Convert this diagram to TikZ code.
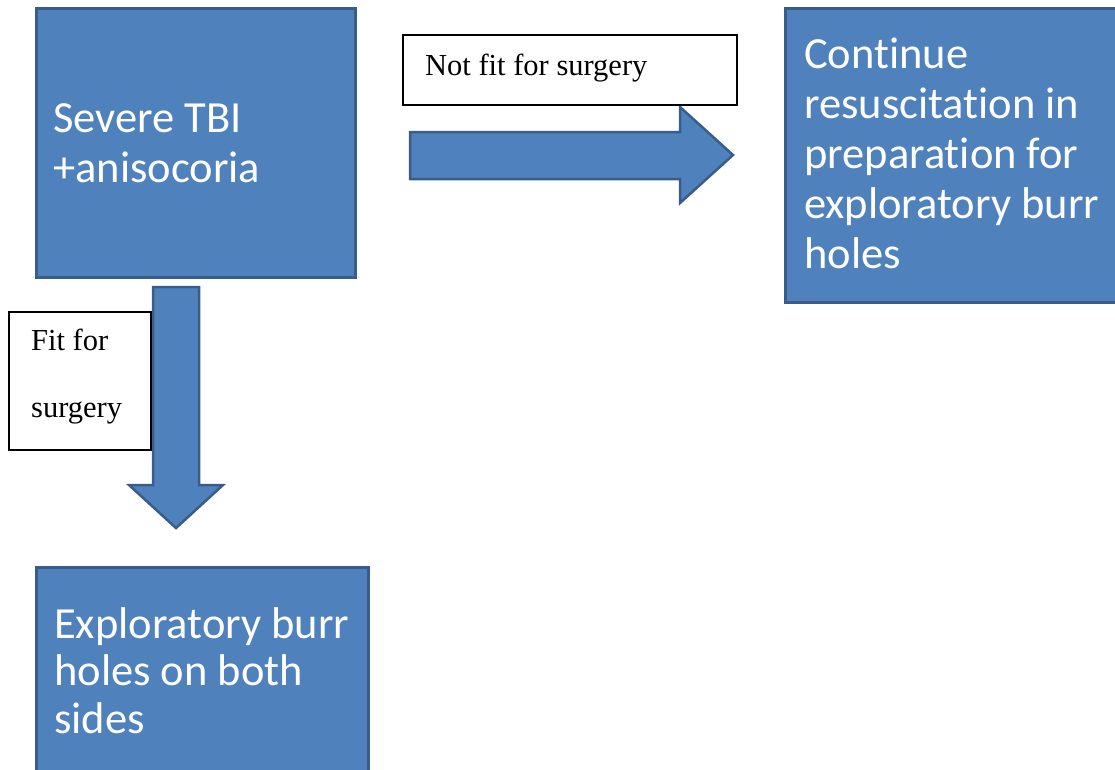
\documentclass[tikz,border=0pt]{standalone}
\usepackage{fontspec}
\setmainfont{Liberation Serif}
\newfontfamily\boxfont[Ligatures=NoCommon]{Carlito}
\definecolor{boxfill}{HTML}{4F81BD}
\definecolor{boxline}{HTML}{385D8A}
\tikzset{
  bluebox/.style={draw=boxline, fill=boxfill, line width=3pt, inner sep=0pt, outer sep=0pt, anchor=north west},
  boxtext/.style={anchor=north west, inner sep=0pt, align=left, text=white,
    font=\boxfont\fontsize{44.5}{50}\selectfont},
  labelbox/.style={draw=black, fill=white, line width=1.2pt, inner sep=0pt, outer sep=0pt, anchor=north west},
  labeltext/.style={anchor=base west, inner sep=0pt, font=\fontsize{30.5}{36}\selectfont},
  blockarrow/.style={draw=boxline, fill=boxfill, line width=2.5pt, line join=miter},
}
\begin{document}
\begin{tikzpicture}[x=1pt,y=-1pt]
\useasboundingbox (0,0) rectangle (1115,769);
\clip (0,0) rectangle (1115,769);
% boxes
\node[bluebox, minimum width=319pt, minimum height=269pt] (b1) at (36,8) {};
\node[bluebox, minimum width=345pt, minimum height=294pt] (b2) at (785,8) {};
\node[bluebox, minimum width=332pt, minimum height=230pt] (b3) at (36,567) {};
% box texts
\node[boxtext] (t1) at (53,97) {\strut Severe TBI\\+anisocoria};
\node[boxtext] (t2) at (804,33) {\strut Continue\\resuscitation in\\preparation for\\exploratory burr\\holes};
\node[boxtext, font=\boxfont\fontsize{44.5}{47.5}\selectfont] (t3) at (54,604.7) {\strut Exploratory burr\\holes on both\\sides};
% right block arrow
\draw[blockarrow] (410,132) -- (680,132) -- (680,107) -- (733,155) -- (680,203) -- (680,179) -- (410,179) -- cycle;
% down block arrow
\draw[blockarrow] (153,287) -- (199,287) -- (199,485) -- (223,485) -- (176,528) -- (129,485) -- (153,485) -- cycle;
% labels
\node[labelbox, minimum width=334pt, minimum height=70pt] (lb1) at (403,35) {};
\node[labeltext] (l1) at (425,75) {Not fit for surgery};
\node[labelbox, minimum width=142pt, minimum height=138pt] (lb2) at (9,312) {};
\node[labeltext] (l2) at (31,350) {Fit for};
\node[labeltext] (l3) at (31,417) {surgery};
\end{tikzpicture}
\end{document}
